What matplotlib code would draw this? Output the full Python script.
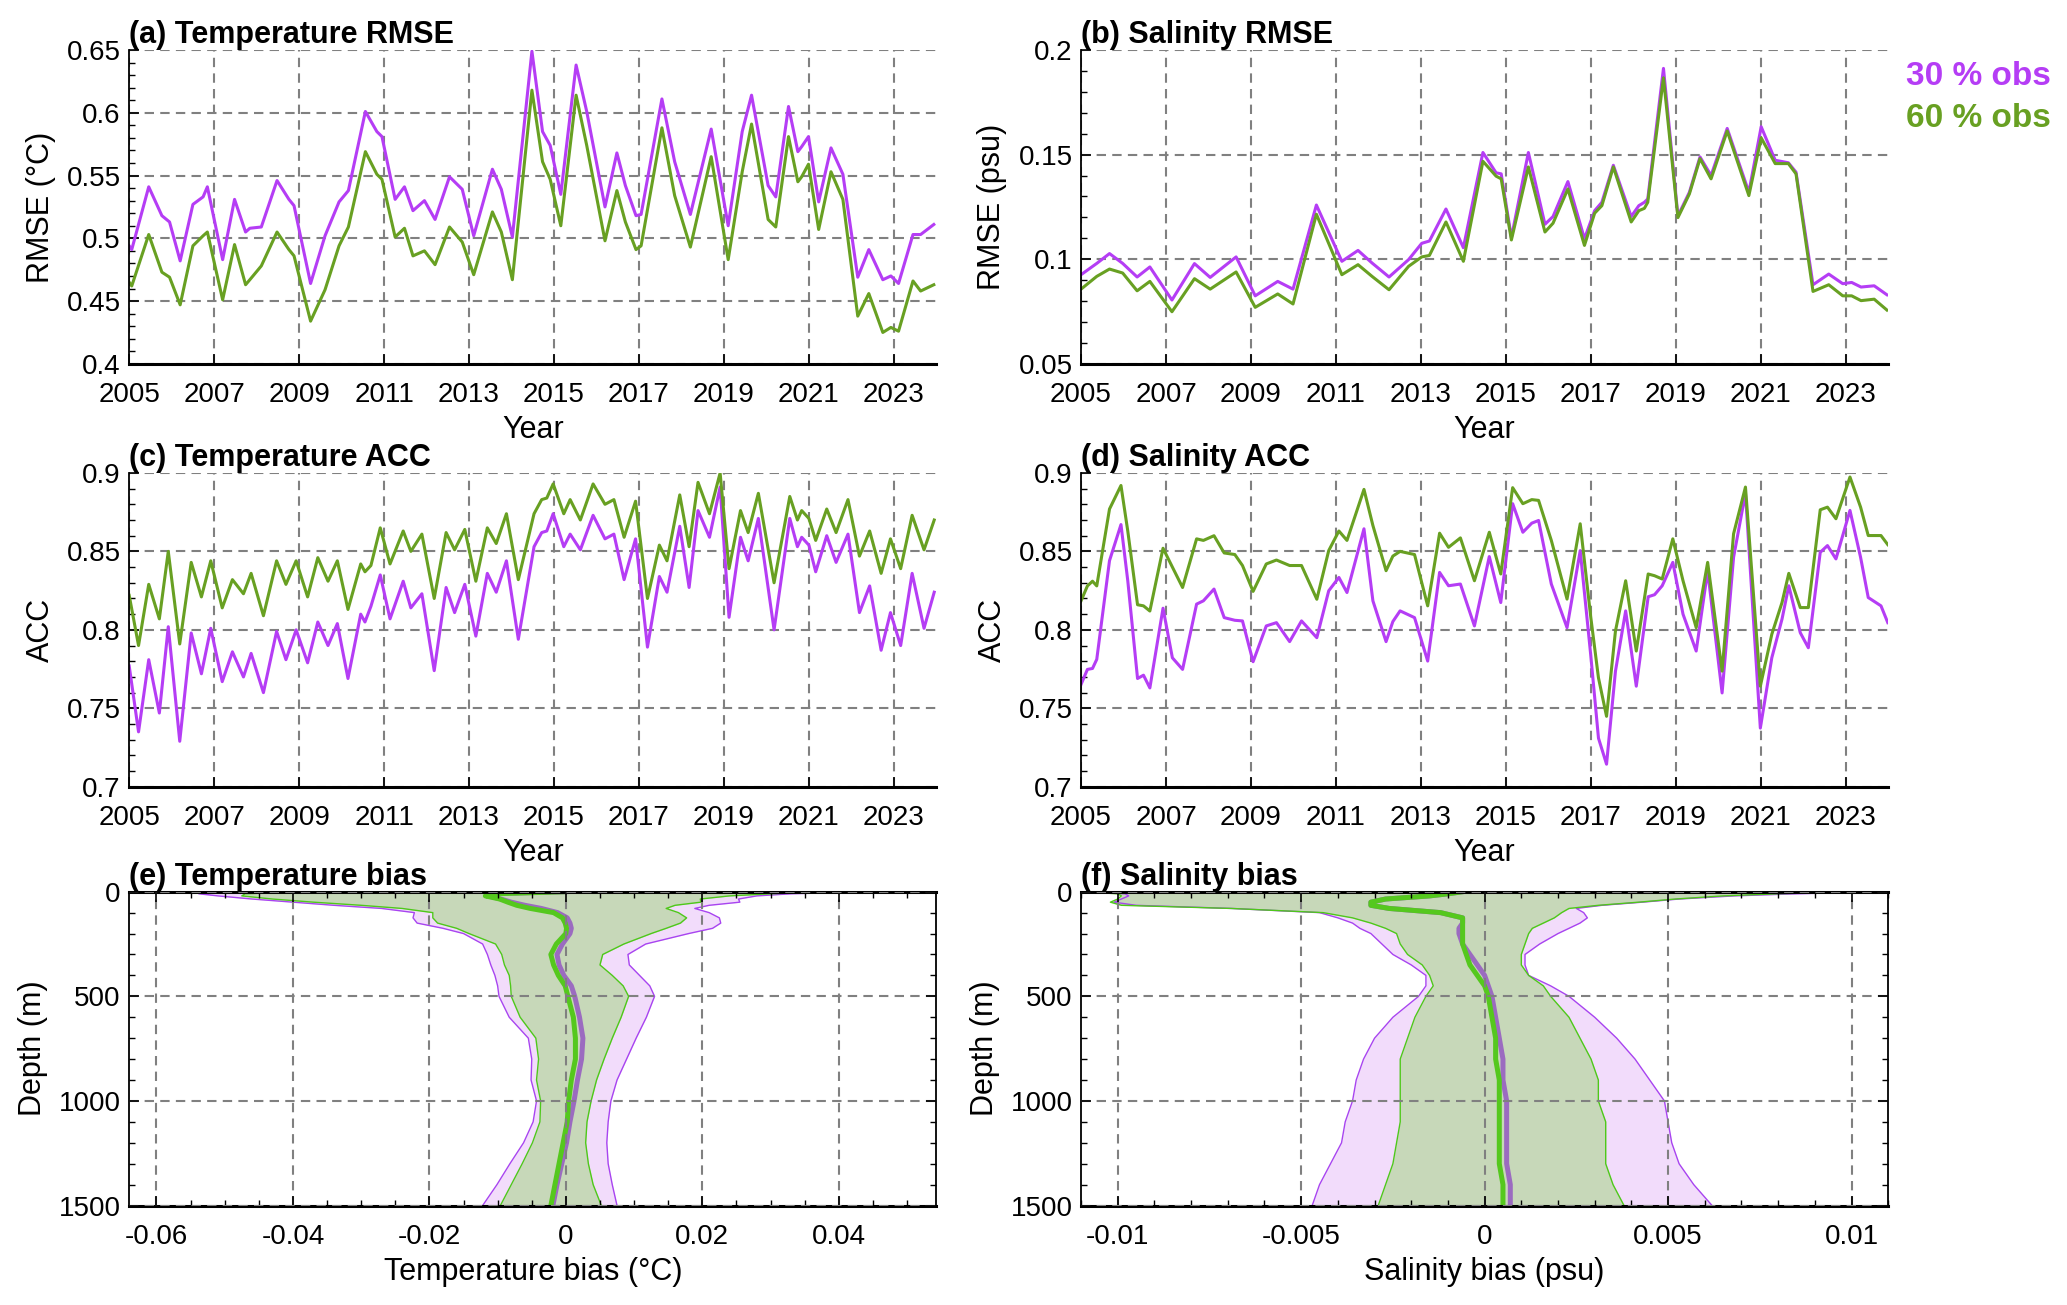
import numpy as np
import matplotlib
matplotlib.use("Agg")
import matplotlib.pyplot as plt
from matplotlib.ticker import MultipleLocator, FixedLocator, FuncFormatter

plt.rcParams['font.family'] = ['Liberation Sans', 'DejaVu Sans']
plt.rcParams['axes.unicode_minus'] = False

# ---- colours ----
PURPLE = '#B53DF5'
GREEN = '#68A022'
P_EDGE = '#A844F0'
P_FILL = '#F2DCFB'
G_EDGE = '#4EC81A'
G_FILL = '#C7D8B9'
P_MEAN = '#9B6BC0'
G_MEAN = '#55C81E'
GRID = '#808080'

# ---- (a) temperature RMSE ----
t_a = [2005.00, 2005.06, 2005.46, 2005.77, 2005.95, 2006.20, 2006.50, 2006.74, 2006.84, 2007.20,
       2007.48, 2007.74, 2007.84, 2008.11, 2008.48, 2008.76, 2008.88, 2009.27, 2009.61, 2009.94,
       2010.16, 2010.56, 2010.83, 2010.95, 2011.26, 2011.48, 2011.68, 2011.95, 2012.20, 2012.54,
       2012.84, 2013.11, 2013.55, 2013.76, 2014.02, 2014.48, 2014.73, 2014.91, 2015.16, 2015.52,
       2015.77, 2016.20, 2016.48, 2016.68, 2016.93, 2017.05, 2017.54, 2017.84, 2018.21, 2018.70,
       2019.10, 2019.43, 2019.65, 2020.04, 2020.22, 2020.52, 2020.74, 2020.83, 2020.99, 2021.23,
       2021.52, 2021.80, 2022.15, 2022.41, 2022.74, 2022.93, 2023.11, 2023.45, 2023.63, 2023.94]
rmse_t_30 = [0.494, 0.491, 0.541, 0.518, 0.513, 0.482, 0.527, 0.533, 0.541, 0.483,
             0.531, 0.505, 0.508, 0.509, 0.546, 0.531, 0.526, 0.464, 0.502, 0.529,
             0.538, 0.601, 0.585, 0.581, 0.531, 0.541, 0.522, 0.530, 0.515, 0.549,
             0.539, 0.502, 0.555, 0.539, 0.501, 0.649, 0.585, 0.574, 0.535, 0.638,
             0.601, 0.525, 0.568, 0.542, 0.518, 0.519, 0.611, 0.561, 0.519, 0.587,
             0.510, 0.585, 0.614, 0.542, 0.533, 0.605, 0.569, 0.573, 0.581, 0.529,
             0.572, 0.551, 0.469, 0.491, 0.467, 0.470, 0.464, 0.503, 0.503, 0.511]
rmse_t_60 = [0.465, 0.462, 0.503, 0.473, 0.469, 0.447, 0.494, 0.502, 0.505, 0.451,
             0.495, 0.463, 0.467, 0.478, 0.505, 0.491, 0.486, 0.434, 0.459, 0.494,
             0.509, 0.569, 0.551, 0.547, 0.501, 0.508, 0.486, 0.490, 0.479, 0.509,
             0.497, 0.471, 0.521, 0.505, 0.467, 0.618, 0.561, 0.547, 0.510, 0.614,
             0.574, 0.498, 0.538, 0.513, 0.491, 0.494, 0.588, 0.534, 0.493, 0.565,
             0.483, 0.553, 0.591, 0.515, 0.509, 0.581, 0.545, 0.549, 0.559, 0.507,
             0.553, 0.531, 0.438, 0.456, 0.425, 0.429, 0.426, 0.466, 0.458, 0.463]

# ---- (b) salinity RMSE ----
t_b = [2005.00, 2005.37, 2005.67, 2005.98, 2006.32, 2006.62, 2007.14, 2007.67, 2008.04, 2008.65,
       2009.10, 2009.63, 2009.99, 2010.54, 2011.14, 2011.52, 2011.85, 2012.25, 2012.71, 2013.02,
       2013.20, 2013.59, 2014.00, 2014.46, 2014.77, 2014.89, 2015.13, 2015.53, 2015.92, 2016.11,
       2016.46, 2016.85, 2017.09, 2017.26, 2017.53, 2017.95, 2018.13, 2018.26, 2018.34, 2018.71,
       2019.05, 2019.32, 2019.57, 2019.83, 2020.21, 2020.72, 2021.01, 2021.34, 2021.65, 2021.83,
       2022.23, 2022.60, 2022.93, 2023.14, 2023.36, 2023.67, 2023.97]
rmse_s_30 = [0.0926, 0.0980, 0.1027, 0.0980, 0.0915, 0.0963, 0.0805, 0.0979, 0.0913, 0.1011,
             0.0825, 0.0894, 0.0857, 0.1259, 0.0990, 0.1042, 0.0982, 0.0915, 0.0998, 0.1076,
             0.1087, 0.1240, 0.1055, 0.1510, 0.1413, 0.1408, 0.1103, 0.1510, 0.1167, 0.1204,
             0.1371, 0.1098, 0.1232, 0.1272, 0.1449, 0.1204, 0.1256, 0.1272, 0.1288, 0.1912,
             0.1207, 0.1320, 0.1489, 0.1400, 0.1625, 0.1320, 0.1633, 0.1473, 0.1461, 0.1416,
             0.0878, 0.0929, 0.0883, 0.0889, 0.0867, 0.0873, 0.0830]
rmse_s_60 = [0.0857, 0.0918, 0.0953, 0.0934, 0.0849, 0.0894, 0.0749, 0.0907, 0.0857, 0.0939,
             0.0770, 0.0834, 0.0786, 0.1215, 0.0926, 0.0974, 0.0918, 0.0854, 0.0966, 0.1011,
             0.1018, 0.1178, 0.0990, 0.1468, 0.1397, 0.1384, 0.1092, 0.1441, 0.1130, 0.1172,
             0.1336, 0.1066, 0.1220, 0.1256, 0.1441, 0.1178, 0.1232, 0.1243, 0.1272, 0.1867,
             0.1199, 0.1312, 0.1481, 0.1384, 0.1613, 0.1304, 0.1580, 0.1457, 0.1457, 0.1408,
             0.0846, 0.0878, 0.0825, 0.0825, 0.0802, 0.0809, 0.0757]

# ---- (c) temperature ACC ----
t_c = [2005.00, 2005.22, 2005.46, 2005.71, 2005.92, 2006.19, 2006.46, 2006.70, 2006.92, 2007.19,
       2007.43, 2007.69, 2007.87, 2008.16, 2008.47, 2008.69, 2008.93, 2009.20, 2009.44, 2009.68,
       2009.90, 2010.15, 2010.45, 2010.55, 2010.69, 2010.91, 2011.14, 2011.45, 2011.63, 2011.89,
       2012.18, 2012.46, 2012.66, 2012.90, 2013.16, 2013.43, 2013.64, 2013.88, 2014.16, 2014.53,
       2014.71, 2014.83, 2014.98, 2015.23, 2015.38, 2015.62, 2015.92, 2016.20, 2016.41, 2016.65,
       2016.92, 2017.20, 2017.48, 2017.66, 2017.96, 2018.18, 2018.39, 2018.66, 2018.91, 2019.12,
       2019.39, 2019.57, 2019.81, 2020.18, 2020.55, 2020.73, 2020.83, 2021.00, 2021.16, 2021.42,
       2021.64, 2021.92, 2022.19, 2022.43, 2022.70, 2022.92, 2023.16, 2023.43, 2023.71, 2023.95]
acc_t_30 = [0.777, 0.735, 0.781, 0.747, 0.802, 0.729, 0.798, 0.772, 0.801, 0.767,
            0.786, 0.770, 0.785, 0.760, 0.799, 0.781, 0.800, 0.779, 0.805, 0.790,
            0.804, 0.769, 0.810, 0.805, 0.815, 0.835, 0.807, 0.831, 0.814, 0.823,
            0.774, 0.827, 0.811, 0.829, 0.796, 0.836, 0.824, 0.844, 0.794, 0.853,
            0.862, 0.863, 0.874, 0.853, 0.861, 0.851, 0.873, 0.858, 0.861, 0.832,
            0.858, 0.789, 0.834, 0.824, 0.866, 0.827, 0.876, 0.859, 0.891, 0.808,
            0.859, 0.844, 0.871, 0.800, 0.871, 0.853, 0.859, 0.854, 0.837, 0.860,
            0.843, 0.861, 0.811, 0.828, 0.787, 0.811, 0.790, 0.836, 0.801, 0.824]
acc_t_60 = [0.822, 0.790, 0.829, 0.807, 0.850, 0.791, 0.843, 0.821, 0.844, 0.814,
            0.832, 0.823, 0.836, 0.809, 0.844, 0.829, 0.844, 0.821, 0.846, 0.831,
            0.844, 0.813, 0.842, 0.837, 0.841, 0.865, 0.842, 0.863, 0.850, 0.861,
            0.820, 0.862, 0.851, 0.864, 0.831, 0.865, 0.855, 0.874, 0.832, 0.874,
            0.883, 0.884, 0.893, 0.874, 0.883, 0.870, 0.893, 0.880, 0.883, 0.859,
            0.882, 0.820, 0.854, 0.844, 0.886, 0.853, 0.894, 0.874, 0.900, 0.839,
            0.876, 0.862, 0.887, 0.830, 0.885, 0.870, 0.876, 0.871, 0.857, 0.877,
            0.862, 0.883, 0.847, 0.863, 0.836, 0.858, 0.839, 0.873, 0.851, 0.870]

# ---- (d) salinity ACC ----
t_d = [2005.00, 2005.15, 2005.27, 2005.37, 2005.67, 2005.94, 2006.10, 2006.33, 2006.47, 2006.62,
       2006.93, 2007.15, 2007.39, 2007.72, 2007.88, 2008.13, 2008.37, 2008.62, 2008.80, 2009.05,
       2009.36, 2009.60, 2009.91, 2010.19, 2010.55, 2010.83, 2011.07, 2011.26, 2011.66, 2011.87,
       2012.18, 2012.34, 2012.51, 2012.85, 2013.16, 2013.44, 2013.65, 2013.93, 2014.26, 2014.61,
       2014.88, 2015.16, 2015.40, 2015.61, 2015.77, 2016.07, 2016.44, 2016.75, 2017.00, 2017.18,
       2017.37, 2017.58, 2017.82, 2018.07, 2018.35, 2018.50, 2018.68, 2018.93, 2019.17, 2019.48,
       2019.75, 2020.09, 2020.36, 2020.64, 2020.99, 2021.26, 2021.50, 2021.66, 2021.93, 2022.12,
       2022.40, 2022.57, 2022.77, 2023.10, 2023.35, 2023.53, 2023.83, 2023.99]
acc_s_30 = [0.7652, 0.7748, 0.7754, 0.7812, 0.8441, 0.8671, 0.8313, 0.7690, 0.7711, 0.7630,
            0.8138, 0.7822, 0.7748, 0.8164, 0.8185, 0.8260, 0.8078, 0.8061, 0.8057, 0.7797,
            0.8025, 0.8046, 0.7925, 0.8057, 0.7950, 0.8249, 0.8334, 0.8238, 0.8644, 0.8185,
            0.7925, 0.8053, 0.8121, 0.8078, 0.7801, 0.8366, 0.8281, 0.8292, 0.8025, 0.8467,
            0.8174, 0.8804, 0.8622, 0.8680, 0.8697, 0.8292, 0.8014, 0.8505, 0.7833, 0.7310,
            0.7144, 0.7737, 0.8121, 0.7641, 0.8211, 0.8224, 0.8281, 0.8430, 0.8100, 0.7865,
            0.8377, 0.7598, 0.8462, 0.8872, 0.7374, 0.7822, 0.8068, 0.8281, 0.7982, 0.7886,
            0.8494, 0.8537, 0.8452, 0.8761, 0.8462, 0.8206, 0.8153, 0.8046]
acc_s_60 = [0.8185, 0.8280, 0.8310, 0.8280, 0.8770, 0.8920, 0.8630, 0.8160, 0.8153, 0.8120,
            0.8520, 0.8400, 0.8270, 0.8580, 0.8570, 0.8600, 0.8490, 0.8480, 0.8410, 0.8245,
            0.8420, 0.8445, 0.8410, 0.8410, 0.8195, 0.8505, 0.8630, 0.8570, 0.8895, 0.8665,
            0.8377, 0.8470, 0.8500, 0.8480, 0.8153, 0.8616, 0.8526, 0.8586, 0.8313, 0.8622,
            0.8356, 0.8906, 0.8804, 0.8830, 0.8825, 0.8570, 0.8196, 0.8676, 0.8078, 0.7694,
            0.7449, 0.7993, 0.8313, 0.7865, 0.8356, 0.8345, 0.8324, 0.8580, 0.8313, 0.8014,
            0.8430, 0.7737, 0.8612, 0.8910, 0.7641, 0.7972, 0.8174, 0.8360, 0.8142, 0.8142,
            0.8765, 0.8782, 0.8708, 0.8974, 0.8782, 0.8601, 0.8601, 0.8543]

# ---- (e), (f) bias profiles ----
depth = [0, 10, 20, 35, 50, 65, 80, 100, 125, 150, 175, 200, 250, 300, 350, 400, 450, 500,
         600, 700, 800, 900, 1000, 1100, 1200, 1300, 1400, 1500]

tb_30_lo = [-0.0450, -0.0538, -0.0510, -0.0460, -0.0400, -0.0340, -0.0270, -0.0222, -0.0224, -0.0218,
            -0.0180, -0.0150, -0.0122, -0.0115, -0.0110, -0.0104, -0.0100, -0.0098, -0.0083, -0.0055,
            -0.0050, -0.0051, -0.0043, -0.0048, -0.0062, -0.0082, -0.0101, -0.0122]
tb_30_hi = [0.0443, 0.0330, 0.0280, 0.0253, 0.0255, 0.0210, 0.0189, 0.0210, 0.0225, 0.0227,
            0.0215, 0.0180, 0.0117, 0.0091, 0.0093, 0.0108, 0.0123, 0.0130, 0.0118, 0.0103,
            0.0089, 0.0075, 0.0066, 0.0062, 0.0060, 0.0062, 0.0068, 0.0075]
tb_30_mean = [0.0000, -0.0115, -0.0114, -0.0095, -0.0080, -0.0060, -0.0036, -0.0012, 0.0002, 0.0006,
              0.0008, 0.0006, -0.0005, -0.0013, -0.0010, -0.0003, 0.0008, 0.0013, 0.0020, 0.0025,
              0.0023, 0.0017, 0.0012, 0.0006, 0.0001, -0.0006, -0.0013, -0.0019]
tb_60_lo = [-0.0386, -0.0470, -0.0475, -0.0430, -0.0370, -0.0300, -0.0240, -0.0195, -0.0195, -0.0188,
            -0.0160, -0.0142, -0.0103, -0.0094, -0.0090, -0.0083, -0.0081, -0.0080, -0.0067, -0.0044,
            -0.0040, -0.0043, -0.0037, -0.0038, -0.0049, -0.0064, -0.0080, -0.0096]
tb_60_hi = [0.0390, 0.0300, 0.0240, 0.0197, 0.0198, 0.0160, 0.0147, 0.0165, 0.0177, 0.0168,
            0.0147, 0.0125, 0.0085, 0.0054, 0.0050, 0.0068, 0.0084, 0.0092, 0.0081, 0.0068,
            0.0056, 0.0045, 0.0037, 0.0031, 0.0029, 0.0033, 0.0040, 0.0052]
tb_60_mean = [-0.0002, -0.0105, -0.0118, -0.0097, -0.0085, -0.0072, -0.0052, -0.0018, -0.0005, -0.0001,
              0.0001, 0.0000, -0.0014, -0.0022, -0.0018, -0.0011, -0.0001, 0.0003, 0.0011, 0.0014,
              0.0014, 0.0008, 0.0004, 0.0002, -0.0004, -0.0010, -0.0016, -0.0022]

sb_30_lo = [-0.0110, -0.0098, -0.0097, -0.0099, -0.0101, -0.0095, -0.0069, -0.0045, -0.0040, -0.0036,
            -0.0034, -0.0031, -0.0028, -0.0025, -0.0020, -0.0016, -0.0016, -0.0018, -0.0025, -0.0030,
            -0.0033, -0.0035, -0.0036, -0.0038, -0.0039, -0.0042, -0.0045, -0.0047]
sb_30_hi = [0.0109, 0.0085, 0.0068, 0.0053, 0.0043, 0.0032, 0.0025, 0.0027, 0.0028, 0.0026,
            0.0023, 0.0020, 0.0015, 0.0011, 0.0011, 0.0012, 0.0018, 0.0023, 0.0030, 0.0036,
            0.0041, 0.0045, 0.0049, 0.0050, 0.0051, 0.0053, 0.0057, 0.0062]
sb_30_mean = [-0.0006, -0.0010, -0.0015, -0.0027, -0.0031, -0.0031, -0.0026, -0.0012, -0.0006, -0.0006,
              -0.0007, -0.0007, -0.0006, -0.0004, -0.0002, 0.0000, 0.0001, 0.0002, 0.0003, 0.0004,
              0.0005, 0.0005, 0.0006, 0.0006, 0.0006, 0.0006, 0.0007, 0.0007]
sb_60_lo = [-0.0110, -0.0100, -0.0099, -0.0100, -0.0102, -0.0099, -0.0069, -0.0044, -0.0036, -0.0031,
            -0.0027, -0.0024, -0.0023, -0.0021, -0.0017, -0.0015, -0.0014, -0.0016, -0.0019, -0.0021,
            -0.0023, -0.0023, -0.0023, -0.0023, -0.0024, -0.0025, -0.0027, -0.0029]
sb_60_hi = [0.0101, 0.0080, 0.0065, 0.0052, 0.0042, 0.0031, 0.0023, 0.0021, 0.0019, 0.0016,
            0.0013, 0.0012, 0.0011, 0.0010, 0.0010, 0.0012, 0.0016, 0.0018, 0.0023, 0.0026,
            0.0029, 0.0031, 0.0031, 0.0033, 0.0033, 0.0033, 0.0035, 0.0038]
sb_60_mean = [-0.0006, -0.0010, -0.0015, -0.0027, -0.0031, -0.0031, -0.0026, -0.0012, -0.0006, -0.0006,
              -0.0006, -0.0006, -0.0006, -0.0005, -0.0004, -0.0002, 0.0000, 0.0001, 0.0002, 0.0003,
              0.0003, 0.0004, 0.0004, 0.0004, 0.0004, 0.0004, 0.0005, 0.0005]

year_ticks = list(range(2005, 2024, 2))

TICK_FS = 20
LABEL_FS = 22
TITLE_FS = 22

fmt = FuncFormatter(lambda v, p: f'{v:g}')

fig = plt.figure(figsize=(20.67, 13.05), dpi=100)
lefts = [0.0625, 0.523]
bottoms = [0.7212, 0.3971, 0.0762]
W, H = 0.3905, 0.2405
GRID_LS = (0, (4.5, 3))


def style_time(ax, title, ylabel, ylim, ymajor):
    ax.set_xlim(2005, 2024)
    ax.set_ylim(*ylim)
    ax.xaxis.set_major_locator(FixedLocator(year_ticks))
    ax.xaxis.set_major_formatter(FuncFormatter(lambda v, p: f'{int(round(v))}'))
    ax.yaxis.set_major_locator(MultipleLocator(ymajor))
    ax.yaxis.set_minor_locator(MultipleLocator(0.01))
    ax.yaxis.set_major_formatter(fmt)
    for s in ['top', 'right']:
        ax.spines[s].set_visible(False)
    ax.spines['left'].set_linewidth(1.3)
    ax.spines['bottom'].set_linewidth(2.2)
    ax.tick_params(which='both', direction='in', labelsize=TICK_FS)
    ax.tick_params(which='major', length=7, width=1.2)
    ax.tick_params(which='minor', length=4, width=1.0)
    ax.tick_params(axis='x', pad=13)
    ax.tick_params(axis='y', pad=6)
    ax.set_axisbelow(True)
    ax.grid(True, which='major', color=GRID, linestyle=GRID_LS, linewidth=1.5)
    ax.set_xlabel('Year', fontsize=LABEL_FS, labelpad=5)
    ax.set_ylabel(ylabel, fontsize=LABEL_FS, labelpad=8)
    ax.set_title(title, loc='left', fontsize=TITLE_FS, fontweight='bold', pad=3)


def style_bias(ax, title, xlabel, xlim, xmajor, xminor):
    ax.set_xlim(*xlim)
    ax.set_ylim(1500, 0)
    ax.xaxis.set_major_locator(MultipleLocator(xmajor))
    ax.xaxis.set_minor_locator(MultipleLocator(xminor))
    ax.xaxis.set_major_formatter(fmt)
    ax.yaxis.set_major_locator(MultipleLocator(500))
    ax.yaxis.set_minor_locator(MultipleLocator(100))
    ax.yaxis.set_major_formatter(fmt)
    for s in ax.spines.values():
        s.set_linewidth(1.3)
    ax.spines['top'].set_linewidth(2.2)
    ax.spines['bottom'].set_linewidth(2.2)
    ax.tick_params(which='both', direction='in', labelsize=TICK_FS,
                   top=True, right=True)
    ax.tick_params(which='major', length=7, width=1.2)
    ax.tick_params(which='minor', length=4, width=1.0)
    ax.tick_params(axis='x', pad=13)
    ax.tick_params(axis='y', pad=6)
    ax.set_axisbelow(False)
    ax.grid(True, which='major', color=GRID, linestyle=GRID_LS, linewidth=1.5)
    ax.set_xlabel(xlabel, fontsize=LABEL_FS, labelpad=5)
    ax.set_ylabel('Depth (m)', fontsize=LABEL_FS, labelpad=8)
    ax.set_title(title, loc='left', fontsize=TITLE_FS, fontweight='bold', pad=3)


# time series panels
ax_a = fig.add_axes([lefts[0], bottoms[0], W, H])
ax_a.plot(t_a, rmse_t_30, color=PURPLE, lw=2.2, solid_joinstyle='round')
ax_a.plot(t_a, rmse_t_60, color=GREEN, lw=2.2, solid_joinstyle='round')
style_time(ax_a, '(a) Temperature RMSE', 'RMSE (°C)', (0.4, 0.65), 0.05)

ax_b = fig.add_axes([lefts[1], bottoms[0], W, H])
ax_b.plot(t_b, rmse_s_30, color=PURPLE, lw=2.2, solid_joinstyle='round')
ax_b.plot(t_b, rmse_s_60, color=GREEN, lw=2.2, solid_joinstyle='round')
style_time(ax_b, '(b) Salinity RMSE', 'RMSE (psu)', (0.05, 0.2), 0.05)

ax_c = fig.add_axes([lefts[0], bottoms[1], W, H])
ax_c.plot(t_c, acc_t_30, color=PURPLE, lw=2.2, solid_joinstyle='round')
ax_c.plot(t_c, acc_t_60, color=GREEN, lw=2.2, solid_joinstyle='round')
style_time(ax_c, '(c) Temperature ACC', 'ACC', (0.7, 0.9), 0.05)

ax_d = fig.add_axes([lefts[1], bottoms[1], W, H])
ax_d.plot(t_d, acc_s_30, color=PURPLE, lw=2.2, solid_joinstyle='round')
ax_d.plot(t_d, acc_s_60, color=GREEN, lw=2.2, solid_joinstyle='round')
style_time(ax_d, '(d) Salinity ACC', 'ACC', (0.7, 0.9), 0.05)

# bias panels
ax_e = fig.add_axes([lefts[0], bottoms[2], W, H])
ax_e.fill_betweenx(depth, tb_30_lo, tb_30_hi, color=P_FILL, lw=0, zorder=1)
ax_e.fill_betweenx(depth, tb_60_lo, tb_60_hi, color=G_FILL, lw=0, zorder=1.1)
ax_e.plot(tb_30_lo, depth, color=P_EDGE, lw=1.0)
ax_e.plot(tb_30_hi, depth, color=P_EDGE, lw=1.0)
ax_e.plot(tb_60_lo, depth, color=G_EDGE, lw=1.0)
ax_e.plot(tb_60_hi, depth, color=G_EDGE, lw=1.0)
ax_e.plot(tb_30_mean, depth, color=P_MEAN, lw=3.6, solid_joinstyle='round')
ax_e.plot(tb_60_mean, depth, color=G_MEAN, lw=3.6, solid_joinstyle='round')
style_bias(ax_e, '(e) Temperature bias', 'Temperature bias (°C)',
           (-0.064, 0.0543), 0.02, 0.005)

ax_f = fig.add_axes([lefts[1], bottoms[2], W, H])
ax_f.fill_betweenx(depth, sb_30_lo, sb_30_hi, color=P_FILL, lw=0, zorder=1)
ax_f.fill_betweenx(depth, sb_60_lo, sb_60_hi, color=G_FILL, lw=0, zorder=1.1)
ax_f.plot(sb_30_lo, depth, color=P_EDGE, lw=1.0)
ax_f.plot(sb_30_hi, depth, color=P_EDGE, lw=1.0)
ax_f.plot(sb_60_lo, depth, color=G_EDGE, lw=1.0)
ax_f.plot(sb_60_hi, depth, color=G_EDGE, lw=1.0)
ax_f.plot(sb_30_mean, depth, color=P_MEAN, lw=3.6, solid_joinstyle='round')
ax_f.plot(sb_60_mean, depth, color=G_MEAN, lw=3.6, solid_joinstyle='round')
style_bias(ax_f, '(f) Salinity bias', 'Salinity bias (psu)',
           (-0.011, 0.011), 0.005, 0.001)

# legend as coloured text
fig.text(0.992, 0.941, '30 % obs', color=PURPLE, fontsize=24, fontweight='bold',
         ha='right', va='center')
fig.text(0.992, 0.909, '60 % obs', color=GREEN, fontsize=24, fontweight='bold',
         ha='right', va='center')

fig.savefig('out.png', dpi=100)
